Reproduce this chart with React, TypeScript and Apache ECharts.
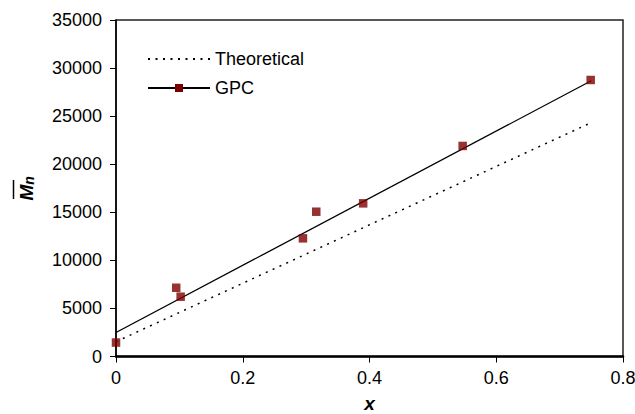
import React, { useEffect, useRef } from "react";
import * as echarts from "echarts";

// GPC measured points
const gpcX = [0, 0.095, 0.102, 0.295, 0.316, 0.39, 0.547, 0.749];
const gpcY = [1450, 7150, 6220, 12290, 15060, 15930, 21900, 28760];
// GPC linear trend line (end points)
const gpcFitX = [0, 0.75];
const gpcFitY = [2500, 28680];
// Theoretical line (end points)
const theoX = [0, 0.75];
const theoY = [1540, 24330];
// Axes
const xTicks = [0, 0.2, 0.4, 0.6, 0.8];
const yTicks = [0, 5000, 10000, 15000, 20000, 25000, 30000, 35000];

const FONT = "'Liberation Sans', Arial, sans-serif";

export default function App() {
  const ref = useRef<HTMLDivElement>(null);
  useEffect(() => {
    document.body.style.margin = "0";
    if (!ref.current) return;
    const chart = echarts.init(ref.current, undefined, { renderer: "svg" });
    const zip = (xs: number[], ys: number[]) => xs.map((x, i) => [x, ys[i]]);
    chart.setOption({
      animation: false,
      backgroundColor: "#fff",
      textStyle: { fontFamily: FONT },
      grid: {
        left: 116,
        top: 20,
        width: 507,
        height: 336.5,
        outerBoundsMode: "none",
        containLabel: false,
        show: true,
        borderColor: "#222",
        borderWidth: 1.5,
      },
      legend: {
        left: 142,
        top: 45,
        orient: "vertical",
        itemWidth: 62,
        itemHeight: 10,
        itemGap: 11,
        data: [
          { name: "Theoretical", itemStyle: { color: "rgba(0,0,0,0)", borderWidth: 0 } },
          { name: "GPC" },
        ],
        textStyle: { fontFamily: FONT, fontSize: 18, color: "#000" },
        selectedMode: false,
      },
      xAxis: {
        type: "value",
        min: xTicks[0],
        max: xTicks[xTicks.length - 1],
        interval: 0.2,
        name: "x",
        nameLocation: "middle",
        nameGap: 39,
        nameTextStyle: {
          fontFamily: FONT,
          fontSize: 19,
          lineHeight: 16,
          fontWeight: "bold",
          fontStyle: "italic",
          color: "#000",
        },
        axisLine: { show: true, lineStyle: { color: "#000", width: 2.5 } },
        axisTick: { show: true, length: 6, lineStyle: { color: "#000", width: 1 } },
        axisLabel: {
          margin: 12,
          fontFamily: FONT,
          fontSize: 18,
          color: "#000",
          formatter: (v: number) => String(Math.round(v * 10) / 10),
        },
        splitLine: { show: false },
      },
      yAxis: {
        type: "value",
        min: yTicks[0],
        max: yTicks[yTicks.length - 1],
        interval: 5000,
        name: "{m|M}{n|n}",
        nameLocation: "middle",
        nameGap: 80,
        nameRotate: 90,
        nameTextStyle: {
          rich: {
            m: {
              fontFamily: FONT,
              fontSize: 19,
              fontWeight: "bold",
              fontStyle: "italic",
              color: "#000",
            },
            n: {
              fontFamily: FONT,
              fontSize: 14,
              fontWeight: "bold",
              fontStyle: "italic",
              color: "#000",
              padding: [6, 0, 0, 0],
            },
          },
        },
        axisLine: { show: true, lineStyle: { color: "#000", width: 1.5 } },
        axisTick: { show: true, length: 6, lineStyle: { color: "#000", width: 1 } },
        axisLabel: {
          margin: 14,
          fontFamily: FONT,
          fontSize: 18,
          color: "#000",
          formatter: (v: number) => String(v),
        },
        splitLine: { show: false },
      },
      graphic: [
        {
          type: "line",
          shape: { x1: 13.5, y1: 180, x2: 13.5, y2: 199 },
          style: { stroke: "#000", lineWidth: 1.5 },
        },
      ],
      series: [
        {
          name: "Theoretical",
          type: "line",
          data: zip(theoX, theoY),
          symbol: "none",
          lineStyle: { color: "#000", width: 1.5, type: [2, 5.5] },
          itemStyle: { color: "#000" },
          z: 2,
        },
        {
          name: "GPC",
          type: "line",
          data: zip(gpcFitX, gpcFitY),
          symbol: "rect",
          showSymbol: false,
          lineStyle: { color: "#000", width: 1.3 },
          itemStyle: { color: "#7a0000" },
          z: 3,
        },
        {
          name: "GPC points",
          type: "scatter",
          data: zip(gpcX, gpcY),
          symbol: "rect",
          symbolSize: 8.5,
          itemStyle: { color: "#7a0000" },
          z: 4,
        },
      ],
    });
    return () => chart.dispose();
  }, []);
  return <div ref={ref} style={{ width: 635, height: 414 }} />;
}
